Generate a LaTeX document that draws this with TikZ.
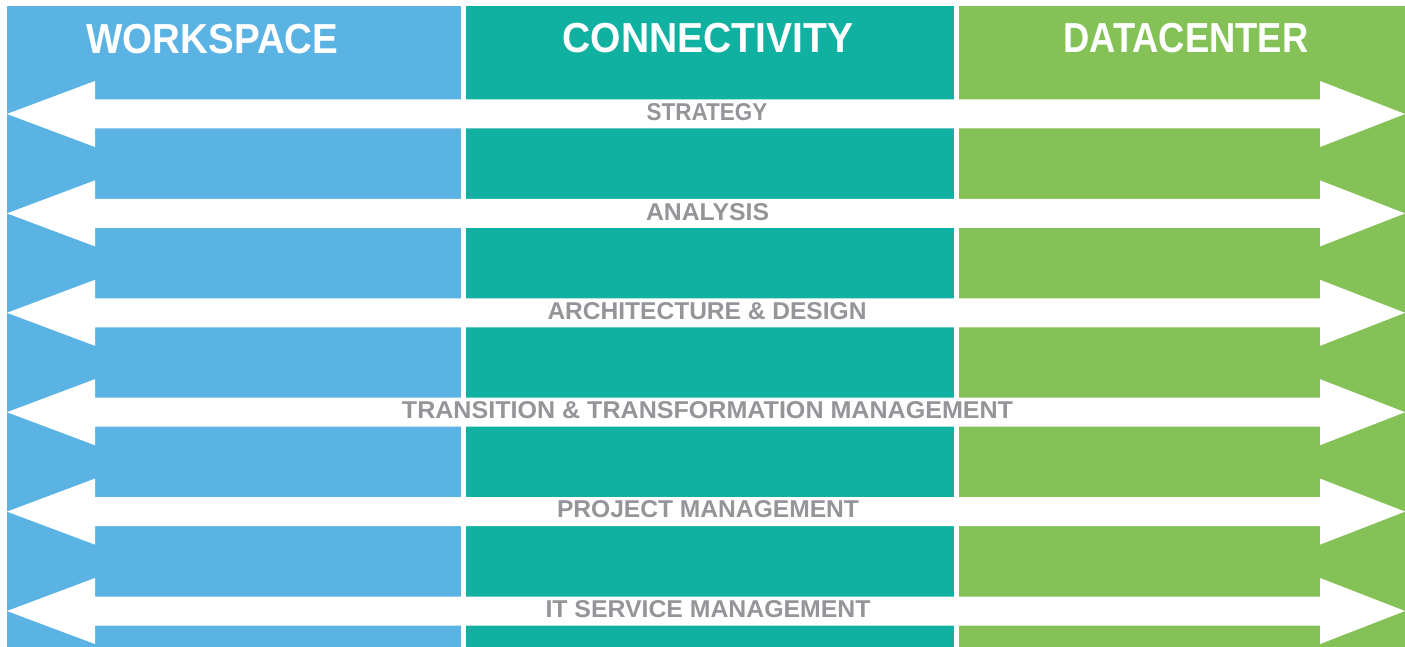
\documentclass[tikz,border=0pt]{standalone}
\usepackage{fontspec}
\usepackage{graphicx}
\setmainfont{Liberation Sans}
\definecolor{wsblue}{HTML}{5AB3E2}
\definecolor{cnteal}{HTML}{10B1A0}
\definecolor{dcgreen}{HTML}{84C257}
\definecolor{lblgray}{HTML}{939598}
\newcommand{\fitText}[3]{\resizebox{#1pt}{#2pt}{\bfseries #3}}
\tikzset{
  panel/.style={inner sep=0pt, outer sep=0pt, draw=none, anchor=north west},
  header/.style={inner sep=0pt, outer sep=0pt, text=white},
  band/.style={fill=white, draw=none},
  bandlabel/.style={inner sep=0pt, outer sep=0pt, text=lblgray}
}
\begin{document}
\begin{tikzpicture}[x=1pt,y=-1pt]
\useasboundingbox (0,0) rectangle (1405,647);
\fill[white] (0,0) rectangle (1405,647);
% column panels
\node[panel, fill=wsblue, minimum width=453.5pt, minimum height=641pt] (ws) at (7,6) {};
\node[panel, fill=cnteal, minimum width=488.3pt, minimum height=641pt] (cn) at (466,6) {};
\node[panel, fill=dcgreen, minimum width=445.7pt, minimum height=641pt] (dc) at (959.3,6) {};
% headers
\node[header] (hws) at (212.5,38.7) {\fitText{251.7}{29.3}{WORKSPACE}};
\node[header] (hcn) at (708,38.5) {\fitText{290.7}{29.3}{CONNECTIVITY}};
\node[header] (hdc) at (1185.8,38.5) {\fitText{245}{29.3}{DATACENTER}};
% double arrows
\foreach \i in {0,...,5} {
  \pgfmathsetmacro\c{114+99.4*\i}
  \fill[band] (7,\c) -- (95,\c-33) -- (95,\c-14.5) -- (1320,\c-14.5) -- (1320,\c-33)
    -- (1405,\c) -- (1320,\c+33) -- (1320,\c+14.5) -- (95,\c+14.5) -- (95,\c+33) -- cycle;
}
% band labels
\node[bandlabel] (l1) at (707,112.5) {\fitText{120.7}{17}{STRATEGY}};
\node[bandlabel] (l2) at (707.5,211.8) {\fitText{123}{17}{ANALYSIS}};
\node[bandlabel] (l3) at (707,311.2) {\fitText{319}{17}{ARCHITECTURE \& DESIGN}};
\node[bandlabel] (l4) at (707.5,410) {\fitText{611}{17}{TRANSITION \& TRANSFORMATION MANAGEMENT}};
\node[bandlabel] (l5) at (708,509.6) {\fitText{302}{17}{PROJECT MANAGEMENT}};
\node[bandlabel] (l6) at (708,608.8) {\fitText{325}{17}{IT SERVICE MANAGEMENT}};
\end{tikzpicture}
\end{document}
